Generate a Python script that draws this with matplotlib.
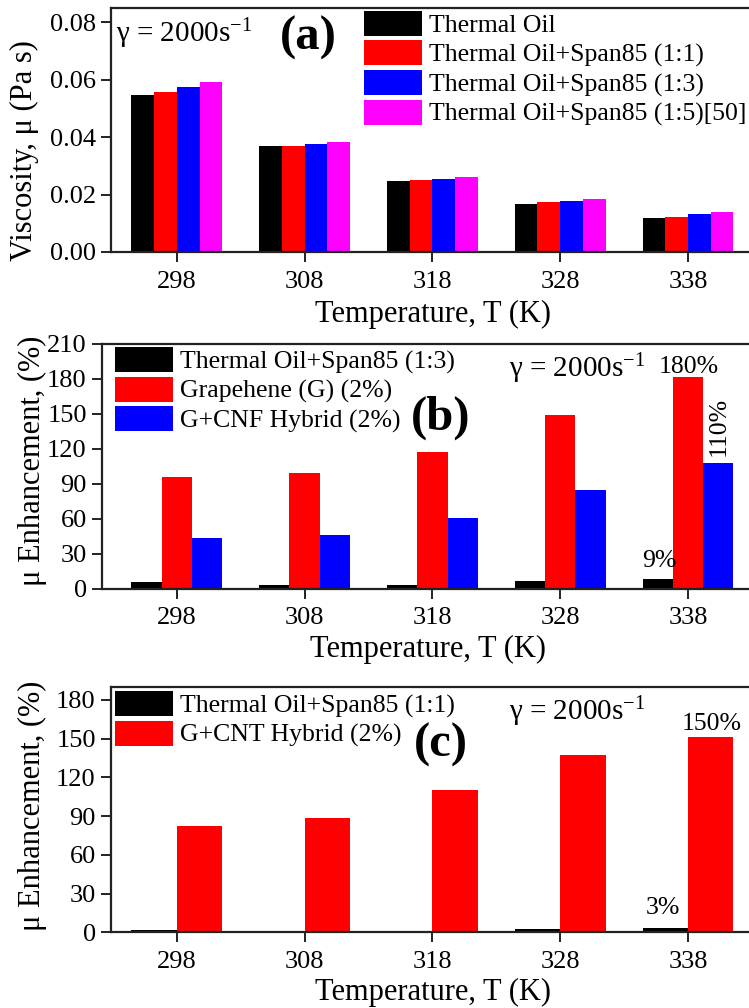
import matplotlib
matplotlib.use('Agg')
import matplotlib.pyplot as plt
import numpy as np

# ---------------- data ----------------
temps = ['298', '308', '318', '328', '338']

visc_oil = [0.0547, 0.0368, 0.0247, 0.0167, 0.0120]
visc_span11 = [0.0556, 0.0370, 0.0251, 0.0173, 0.0123]
visc_span13 = [0.0574, 0.0376, 0.0256, 0.0179, 0.0131]
visc_span15 = [0.0591, 0.0382, 0.0260, 0.0185, 0.0138]

enh_b_span13 = [5.2, 2.6, 3.2, 6.3, 8.5]
enh_b_graphene = [95.4, 99.4, 116.9, 149.0, 181.7]
enh_b_gcnf = [43.0, 46.1, 60.2, 84.5, 107.9]

enh_c_span11 = [1.8, 1.3, 1.3, 2.3, 3.6]
enh_c_gcnt = [82.1, 88.3, 110.0, 137.4, 151.3]

labels_a = ['Thermal Oil', 'Thermal Oil+Span85 (1:1)', 'Thermal Oil+Span85 (1:3)',
            'Thermal Oil+Span85 (1:5)[50]']
labels_b = ['Thermal Oil+Span85 (1:3)', 'Grapehene (G) (2%)', 'G+CNF Hybrid (2%)']
labels_c = ['Thermal Oil+Span85 (1:1)', 'G+CNT Hybrid (2%)']

# ---------------- style ----------------
plt.rcParams['font.family'] = ['Liberation Serif', 'DejaVu Serif']
plt.rcParams['mathtext.fontset'] = 'custom'
plt.rcParams['mathtext.rm'] = 'Liberation Serif'
plt.rcParams['mathtext.it'] = 'Liberation Serif:italic'
plt.rcParams['mathtext.bf'] = 'Liberation Serif:bold'

W, H = 749, 1008
fig = plt.figure(figsize=(W / 100, H / 100), dpi=100)

X0 = 176.8      # pixel x of first category
SP = 127.8      # pixel spacing of categories
RIGHT = 754.0

TICK_FS = 19
LAB_FS = 22
LEG_FS = 18.5
GAM_FS = 21
TAG_FS = 35
SPINE = '#222222'


def make_axes(left, top, bottom):
    ax = fig.add_axes([left / W, 1 - bottom / H, (RIGHT - left) / W, (bottom - top) / H])
    ax.set_xlim((left - X0) / SP, (RIGHT - X0) / SP)
    for s in ax.spines.values():
        s.set_linewidth(1.6)
        s.set_color(SPINE)
    ax.tick_params(axis='both', direction='out', length=7, width=1.4,
                   labelsize=TICK_FS, color=SPINE)
    ax.tick_params(axis='x', pad=6.5)
    ax.tick_params(axis='y', pad=4)
    ax.set_xticks(np.arange(len(temps)))
    ax.set_xticklabels(temps)
    return ax


def ftext(px, py, s, **kw):
    fig.text(px / W, 1 - py / H, s, **kw)


x = np.arange(len(temps))
gamma = 'γ = 2000s$^{\\mathregular{-1}}$'

# ---------------- (a) ----------------
axa = make_axes(111, 8, 252)
wa = 0.178
cols_a = ['#000000', '#FF0000', '#0000FF', '#FF00FF']
series_a = [visc_oil, visc_span11, visc_span13, visc_span15]
for i, (vals, c, lab) in enumerate(zip(series_a, cols_a, labels_a)):
    axa.bar(x + (i - 1.5) * wa, vals, width=wa, color=c, linewidth=0, label=lab)
axa.set_ylim(0, 0.085)
axa.set_yticks([0.0, 0.02, 0.04, 0.06, 0.08])
axa.set_yticklabels(['0.00', '0.02', '0.04', '0.06', '0.08'])
axa.set_xlabel('Temperature, T (K)', fontsize=LAB_FS)
axa.xaxis.set_label_coords(0.5, -0.198)
axa.set_ylabel('Viscosity, μ (Pa s)', fontsize=LAB_FS)
axa.yaxis.set_label_coords(-0.112, 0.414)
axa.legend(loc='upper left', bbox_to_anchor=((364 - 111) / 643, (252 - 11) / 244),
           frameon=False, fontsize=LEG_FS, handlelength=2.25, handleheight=1.12,
           labelspacing=0.12, handletextpad=0.27, borderpad=0, borderaxespad=0)
ftext(116, 42, gamma, fontsize=GAM_FS, va='baseline', ha='left')
ftext(308, 50, '(a)', fontsize=TAG_FS, fontweight='bold', va='baseline', ha='center')

# ---------------- (b) ----------------
axb = make_axes(102, 344, 588.5)
wb = 0.237
cols_b = ['#000000', '#FF0000', '#0000FF']
series_b = [enh_b_span13, enh_b_graphene, enh_b_gcnf]
for i, (vals, c, lab) in enumerate(zip(series_b, cols_b, labels_b)):
    axb.bar(x + (i - 1) * wb, vals, width=wb, color=c, linewidth=0, label=lab)
axb.set_ylim(0, 210)
axb.set_yticks(np.arange(0, 211, 30))
axb.set_xlabel('Temperature, T (K)', fontsize=LAB_FS)
axb.xaxis.set_label_coords(0.5, -0.19)
axb.set_ylabel('μ Enhancement, (%)', fontsize=LAB_FS)
axb.yaxis.set_label_coords(-0.085, 0.521)
axb.legend(loc='upper left', bbox_to_anchor=((115 - 102) / 652, (588.5 - 347) / 244.5),
           frameon=False, fontsize=LEG_FS, handlelength=2.25, handleheight=1.12,
           labelspacing=0.12, handletextpad=0.27, borderpad=0, borderaxespad=0)
ftext(509, 377, gamma, fontsize=GAM_FS, va='baseline', ha='left')
ftext(441, 430, '(b)', fontsize=TAG_FS, fontweight='bold', va='baseline', ha='center')
ftext(689, 372.7, '180%', fontsize=LEG_FS, va='baseline', ha='center')
ftext(659, 566.7, '9%', fontsize=LEG_FS, va='baseline', ha='center')
ftext(719, 426, '110%', fontsize=LEG_FS, va='center', ha='center', rotation=90)

# ---------------- (c) ----------------
axc = make_axes(111, 686.7, 932.3)
wc = 0.355
cols_c = ['#000000', '#FF0000']
series_c = [enh_c_span11, enh_c_gcnt]
for i, (vals, c, lab) in enumerate(zip(series_c, cols_c, labels_c)):
    axc.bar(x + (i - 0.5) * wc, vals, width=wc, color=c, linewidth=0, label=lab)
axc.set_ylim(0, 190.3)
axc.set_yticks(np.arange(0, 181, 30))
axc.set_xlabel('Temperature, T (K)', fontsize=LAB_FS)
axc.xaxis.set_label_coords(0.5, -0.186)
axc.set_ylabel('μ Enhancement, (%)', fontsize=LAB_FS)
axc.yaxis.set_label_coords(-0.1, 0.514)
axc.legend(loc='upper left', bbox_to_anchor=((115 - 111) / 643, (932.3 - 691) / 245.6),
           frameon=False, fontsize=LEG_FS, handlelength=2.25, handleheight=1.12,
           labelspacing=0.12, handletextpad=0.27, borderpad=0, borderaxespad=0)
ftext(509, 720, gamma, fontsize=GAM_FS, va='baseline', ha='left')
ftext(441, 756.7, '(c)', fontsize=TAG_FS, fontweight='bold', va='baseline', ha='center')
ftext(712, 730, '150%', fontsize=LEG_FS, va='baseline', ha='center')
ftext(663, 914.3, '3%', fontsize=LEG_FS, va='baseline', ha='center')

fig.savefig('out.png', dpi=100)
